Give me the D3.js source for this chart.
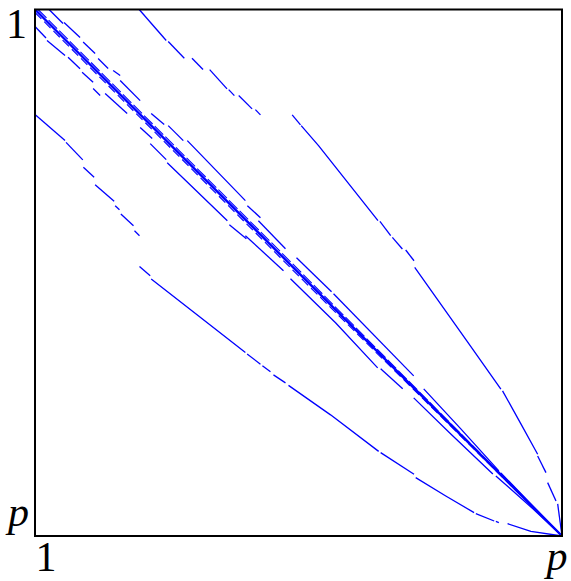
<!DOCTYPE html>
<html lang="en">
<head>
<meta charset="UTF-8">
<title>Sparsity pattern</title>
<script src="https://d3js.org/d3.v7.min.js"></script>
<style>
  body { margin: 0; background: #fff; }
  .frame { fill: none; stroke: #000; stroke-width: 2; }
  .dash { fill: none; stroke: #0000ff; stroke-linecap: butt; stroke-linejoin: round; }
  .lbl { font-family: "Liberation Serif", "DejaVu Serif", serif; font-size: 42px; fill: #000; }
  .var { font-style: italic; }
</style>
</head>
<body>
<div id="chart"></div>
<script>
// positions are in percent of p (column, row); each line is a list of dashes,
// each dash a list of [col, row] points
const tickLabels = ["1", "p"];

const mainDiag = [[[0, 0], [100, 100]]];
const innerUpper = [[[0.57, 0], [50.38, 49.81], [100, 100]]];
const innerLower = [[[0, 0.57], [50.38, 50.95], [100, 100]]];

const nearUpper = [
  [[2.66, 0], [5.32, 2.66]],
  [[11.98, 9.32], [13.88, 11.22]],
  [[16.16, 13.50], [19.96, 17.30]],
  [[22.05, 19.77], [24.52, 21.86]],
  [[42.39, 40.11], [47.53, 45.44]],
  [[49.62, 47.15], [56.27, 53.61]],
  [[56.65, 53.99], [71.86, 69.58]],
  [[73.76, 72.05], [80.80, 79.66], [88.02, 87.64]],
  [[88.40, 88.02], [94.10, 93.91], [100, 100]]
];
const farUpper = [
  [[5.51, 2.47], [8.55, 5.32]],
  [[9.13, 6.18], [11.41, 8.36]],
  [[14.83, 11.60], [16.16, 12.55]],
  [[25.28, 22.05], [28.14, 24.90]],
  [[28.90, 24.90], [34.41, 30.61], [39.92, 36.31]],
  [[40.30, 37.26], [42.78, 39.54]]
];
const nearLower = [
  [[0, 3.23], [2.09, 5.42]],
  [[6.27, 9.07], [8.55, 11.27]],
  [[8.94, 11.92], [11.03, 13.82]],
  [[13.31, 15.97], [17.49, 19.77]],
  [[19.96, 22.43], [22.24, 24.52]],
  [[39.92, 42.96], [47.15, 49.62]],
  [[48.48, 51.14], [57.03, 59.50], [65.02, 68.06]],
  [[65.59, 68.25], [69.77, 72.05]],
  [[71.86, 73.76], [78.90, 80.61], [86.88, 88.21]],
  [[87.45, 88.59], [94.10, 94.48], [100, 100]]
];
const farLower = [
  [[2.28, 5.89], [5.70, 8.75]],
  [[11.03, 15.02], [12.36, 16.35]],
  [[21.86, 25.47], [24.90, 28.52]],
  [[25.09, 29.09], [30.80, 34.60], [36.50, 40.11]],
  [[36.88, 40.87], [40.11, 43.54]]
];
const outerUpper = [
  [[19.77, 0], [24.90, 5.89]],
  [[25.28, 6.08], [28.33, 9.26]],
  [[29.79, 9.26], [31.88, 11.41]],
  [[33.14, 11.41], [36.44, 15.08]],
  [[36.75, 15.21], [37.83, 16.35]],
  [[38.65, 16.35], [41.20, 18.88]],
  [[41.82, 19.01], [42.78, 20.02]],
  [[48.80, 20.02], [50.38, 21.92]],
  [[50.51, 22.05], [53.80, 25.86], [65.08, 40.11]],
  [[65.45, 40.25], [67.49, 42.96]],
  [[67.81, 43.29], [69.71, 45.49]],
  [[70.34, 45.68], [71.92, 47.72]],
  [[72.05, 48.99], [81.94, 62.93], [88.40, 72.11]],
  [[88.72, 72.43], [92.20, 78.71], [95.38, 84.47]],
  [[95.38, 84.79], [96.96, 87.96]],
  [[97.28, 89.86], [98.86, 93.34]],
  [[99.18, 93.91], [100, 100]]
];
const outerLower = [
  [[0, 19.96], [5.70, 24.90]],
  [[5.89, 25.23], [9.07, 28.57]],
  [[9.18, 29.98], [11.22, 31.88]],
  [[11.41, 33.27], [15.02, 36.44]],
  [[15.21, 37.26], [16.03, 38.02]],
  [[16.29, 38.84], [18.69, 41.06]],
  [[18.88, 42.01], [19.83, 42.96]],
  [[19.83, 48.80], [21.86, 50.57]],
  [[22.05, 51.20], [30.99, 58.17], [39.92, 65.15]],
  [[40.25, 65.45], [42.78, 67.36]],
  [[43.15, 67.68], [44.68, 68.82]],
  [[45.25, 69.39], [47.53, 70.91]],
  [[48.10, 71.39], [56.08, 76.99], [65.21, 83.93]],
  [[65.59, 84.16], [71.92, 88.27]],
  [[72.24, 88.91], [77.95, 92.39], [83.32, 95.56]],
  [[83.65, 95.76], [87.13, 97.15]],
  [[87.45, 97.24], [88.02, 97.47]],
  [[89.67, 97.66], [94.10, 99.14], [100, 100]]
];

const layers = [
  { dashes: outerUpper, w: 1.3 },
  { dashes: outerLower, w: 1.3 },
  { dashes: farUpper, w: 1.3 },
  { dashes: farLower, w: 1.3 },
  { dashes: nearUpper, w: 1.3 },
  { dashes: nearLower, w: 1.3 },
  { dashes: innerUpper, w: 1.1, pattern: "12,3" },
  { dashes: innerLower, w: 1.1, pattern: "9,4" },
  { dashes: mainDiag, w: 2.4 }
];

const W = 571, H = 581;
const x = d3.scaleLinear().domain([0, 100]).range([35, 562]);
const y = d3.scaleLinear().domain([0, 100]).range([9.5, 536]);

const svg = d3.select("#chart").append("svg")
  .attr("width", W)
  .attr("height", H);

const line = d3.line().x(d => x(d[0])).y(d => y(d[1]));

const g = svg.append("g");
layers.forEach(layer => {
  g.selectAll(null)
    .data(layer.dashes)
    .enter().append("path")
    .attr("class", "dash")
    .attr("d", line)
    .attr("stroke-width", layer.w)
    .attr("stroke-dasharray", layer.pattern || null);
});

svg.append("rect")
  .attr("class", "frame")
  .attr("x", x(0))
  .attr("y", y(0))
  .attr("width", x(100) - x(0))
  .attr("height", y(100) - y(0));

// row labels on the left, column labels underneath
svg.append("text").attr("class", "lbl")
  .attr("x", x(0) - 8).attr("y", 38)
  .attr("text-anchor", "end").text(tickLabels[0]);
svg.append("text").attr("class", "lbl var")
  .attr("x", x(0) - 6).attr("y", y(100) - 10)
  .attr("text-anchor", "end").text(tickLabels[1]);
svg.append("text").attr("class", "lbl")
  .attr("x", x(0) + 11).attr("y", 571)
  .attr("text-anchor", "middle").text(tickLabels[0]);
svg.append("text").attr("class", "lbl var")
  .attr("x", x(100) - 5).attr("y", 570)
  .attr("text-anchor", "middle").text(tickLabels[1]);
</script>
</body>
</html>
